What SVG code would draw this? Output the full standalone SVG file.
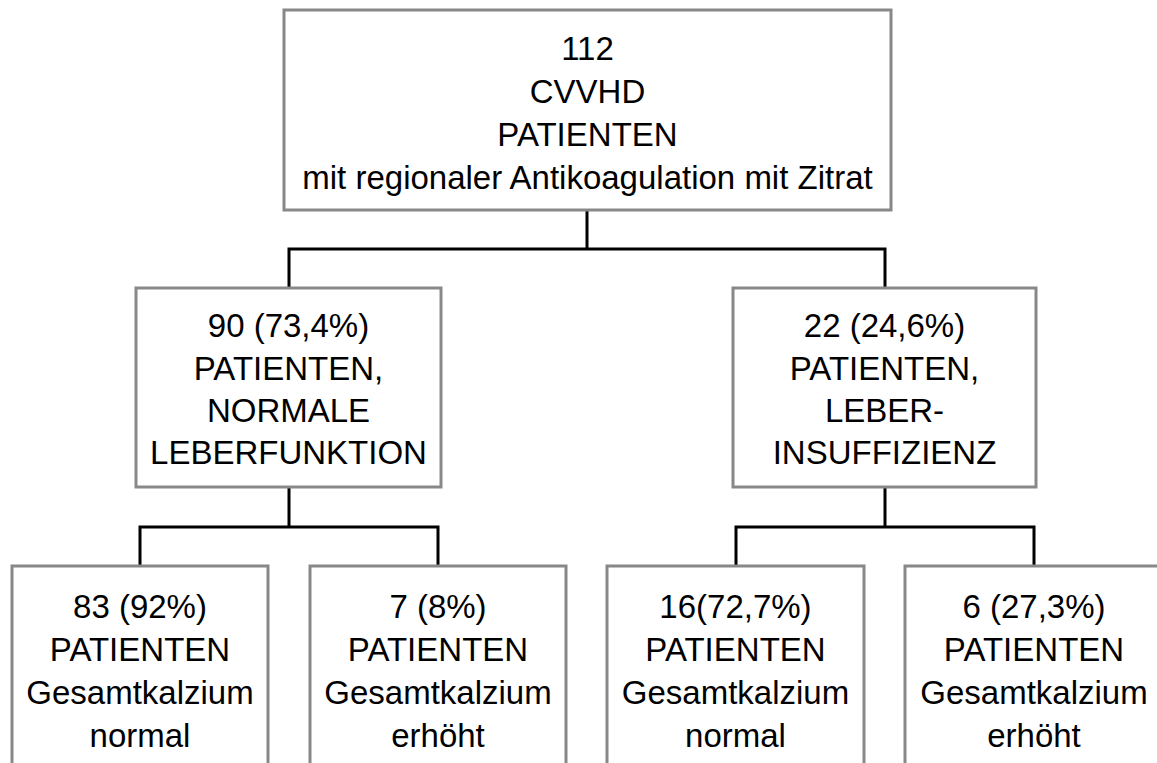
<svg xmlns="http://www.w3.org/2000/svg" width="1157" height="763" viewBox="0 0 1157 763">
<style>
.box{fill:#fff;stroke:#888;stroke-width:3}
.t{font-family:"Liberation Sans",Arial,sans-serif;font-size:33px;fill:#000;text-anchor:middle}
.c{fill:none;stroke:#000;stroke-width:3}
</style>
<rect width="1157" height="763" fill="#fff"/>
<g id="connectors">
<polyline class="c" points="587,210 587,249"/>
<polyline class="c" points="289,288 289,249 885,249 885,288"/>
<polyline class="c" points="289,487 289,527"/>
<polyline class="c" points="140,566 140,527 438,527 438,566"/>
<polyline class="c" points="885,487 885,527"/>
<polyline class="c" points="736,566 736,527 1034,527 1034,566"/>
</g>
<g id="root">
<rect class="box" x="284" y="10" width="607" height="200"/>
<text class="t" x="587.5" y="60">112</text>
<text class="t" x="587.5" y="103">CVVHD</text>
<text class="t" x="587.5" y="146">PATIENTEN</text>
<text class="t" x="587.5" y="189">mit regionaler Antikoagulation mit Zitrat</text>
</g>
<g id="normal">
<rect class="box" x="136" y="288" width="305" height="199"/>
<text class="t" x="288.5" y="337">90 (73,4%)</text>
<text class="t" x="288.5" y="380">PATIENTEN,</text>
<text class="t" x="288.5" y="422">NORMALE</text>
<text class="t" x="288.5" y="464">LEBERFUNKTION</text>
</g>
<g id="insuff">
<rect class="box" x="733" y="288" width="303" height="199"/>
<text class="t" x="884.5" y="337">22 (24,6%)</text>
<text class="t" x="884.5" y="380">PATIENTEN,</text>
<text class="t" x="884.5" y="422">LEBER-</text>
<text class="t" x="884.5" y="464">INSUFFIZIENZ</text>
</g>
<g id="n1">
<rect class="box" x="12" y="566" width="256" height="220"/>
<text class="t" x="140" y="618">83 (92%)</text>
<text class="t" x="140" y="661">PATIENTEN</text>
<text class="t" x="140" y="704">Gesamtkalzium</text>
<text class="t" x="140" y="747">normal</text>
</g>
<g id="n2">
<rect class="box" x="310" y="566" width="256" height="220"/>
<text class="t" x="438" y="618">7 (8%)</text>
<text class="t" x="438" y="661">PATIENTEN</text>
<text class="t" x="438" y="704">Gesamtkalzium</text>
<text class="t" x="438" y="747">erhöht</text>
</g>
<g id="n3">
<rect class="box" x="607" y="566" width="257" height="220"/>
<text class="t" x="735.5" y="618">16(72,7%)</text>
<text class="t" x="735.5" y="661">PATIENTEN</text>
<text class="t" x="735.5" y="704">Gesamtkalzium</text>
<text class="t" x="735.5" y="747">normal</text>
</g>
<g id="n4">
<rect class="box" x="905" y="566" width="258" height="220"/>
<text class="t" x="1034" y="618">6 (27,3%)</text>
<text class="t" x="1034" y="661">PATIENTEN</text>
<text class="t" x="1034" y="704">Gesamtkalzium</text>
<text class="t" x="1034" y="747">erhöht</text>
</g>
</svg>
